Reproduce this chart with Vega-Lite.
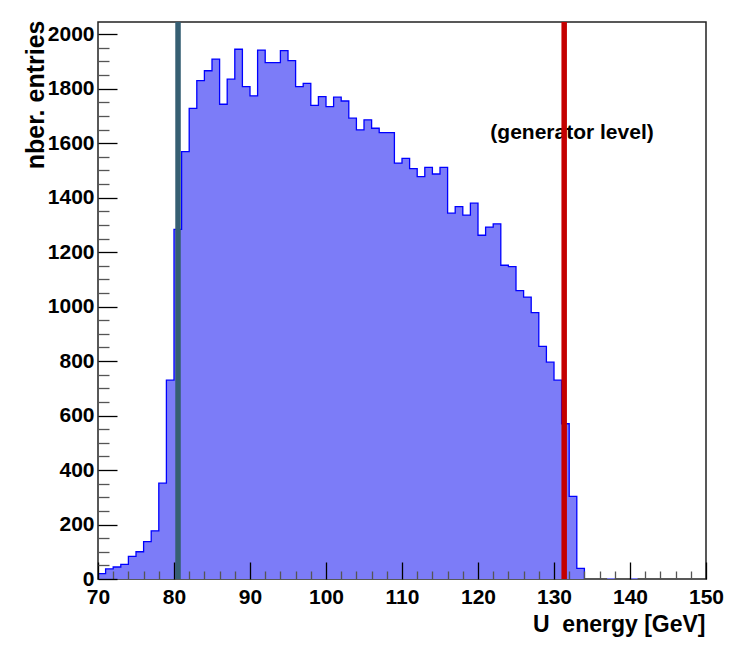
{
  "$schema": "https://vega.github.io/schema/vega-lite/v6.json",
  "width": 608,
  "height": 557,
  "autosize": {"type": "none"},
  "padding": {"left": 98, "top": 22, "right": 31, "bottom": 66},
  "background": "white",
  "config": {
    "view": {"stroke": "#222222", "strokeWidth": 1.5},
    "font": "Liberation Sans"
  },
  "datasets": {
    "hist": [
      {"e": 70, "n": 20}, {"e": 71, "n": 37}, {"e": 72, "n": 44}, {"e": 73, "n": 54},
      {"e": 74, "n": 83}, {"e": 75, "n": 100}, {"e": 76, "n": 137}, {"e": 77, "n": 177},
      {"e": 78, "n": 352}, {"e": 79, "n": 730}, {"e": 80, "n": 1284}, {"e": 81, "n": 1569},
      {"e": 82, "n": 1728}, {"e": 83, "n": 1830}, {"e": 84, "n": 1866}, {"e": 85, "n": 1909},
      {"e": 86, "n": 1743}, {"e": 87, "n": 1835}, {"e": 88, "n": 1945}, {"e": 89, "n": 1808},
      {"e": 90, "n": 1774}, {"e": 91, "n": 1942}, {"e": 92, "n": 1896}, {"e": 93, "n": 1896},
      {"e": 94, "n": 1940}, {"e": 95, "n": 1903}, {"e": 96, "n": 1808}, {"e": 97, "n": 1820},
      {"e": 98, "n": 1739}, {"e": 99, "n": 1771}, {"e": 100, "n": 1734}, {"e": 101, "n": 1769},
      {"e": 102, "n": 1755}, {"e": 103, "n": 1692}, {"e": 104, "n": 1649}, {"e": 105, "n": 1686},
      {"e": 106, "n": 1655}, {"e": 107, "n": 1639}, {"e": 108, "n": 1639}, {"e": 109, "n": 1527},
      {"e": 110, "n": 1544}, {"e": 111, "n": 1507}, {"e": 112, "n": 1477}, {"e": 113, "n": 1511},
      {"e": 114, "n": 1487}, {"e": 115, "n": 1511}, {"e": 116, "n": 1343}, {"e": 117, "n": 1367},
      {"e": 118, "n": 1336}, {"e": 119, "n": 1380}, {"e": 120, "n": 1262}, {"e": 121, "n": 1292},
      {"e": 122, "n": 1304}, {"e": 123, "n": 1152}, {"e": 124, "n": 1147}, {"e": 125, "n": 1059},
      {"e": 126, "n": 1035}, {"e": 127, "n": 978}, {"e": 128, "n": 854}, {"e": 129, "n": 796},
      {"e": 130, "n": 730}, {"e": 131, "n": 570}, {"e": 132, "n": 303}, {"e": 133, "n": 39},
      {"e": 134, "n": 0}, {"e": 135, "n": 0}, {"e": 136, "n": 0}, {"e": 137, "n": 4},
      {"e": 138, "n": 0}, {"e": 139, "n": 0}, {"e": 140, "n": 4}, {"e": 141, "n": 0},
      {"e": 142, "n": 0}, {"e": 143, "n": 0}, {"e": 144, "n": 0}, {"e": 145, "n": 0},
      {"e": 146, "n": 0}, {"e": 147, "n": 0}, {"e": 148, "n": 0}, {"e": 149, "n": 0},
      {"e": 150, "n": 0}
    ],
    "lines": [
      {"pos": 80.53, "kind": "reco"},
      {"pos": 131.34, "kind": "gen"}
    ],
    "note": [
      {"x": 132.37, "y": 1638, "label": "(generator level)"}
    ]
  },
  "layer": [
    {
      "data": {"name": "hist"},
      "mark": {"type": "area", "interpolate": "step-after", "color": "#7c7cf8", "opacity": 1},
      "encoding": {
        "x": {
          "field": "e", "type": "quantitative",
          "scale": {"domain": [70, 150], "nice": false, "zero": false},
          "axis": {
            "zindex": 1,
            "tickCount": 200,
            "values": [70,72,74,76,78,80,82,84,86,88,90,92,94,96,98,100,102,104,106,108,110,112,114,116,118,120,122,124,126,128,130,132,134,136,138,140,142,144,146,148,150],
            "format": "d",
            "labelExpr": "datum.value % 10 === 0 ? datum.label : ''",
            "labelOverlap": false,
            "labelFlush": false,
            "labelBound": false,
            "domain": false,
            "grid": false,
            "tickSize": {"condition": {"test": "datum.value % 10 === 0", "value": -17}, "value": -8},
            "tickColor": {"condition": {"test": "datum.value % 10 === 0", "value": "#000000"}, "value": "#555555"},
            "tickWidth": 1.3,
            "labelFont": "Liberation Sans",
            "labelFontWeight": "bold",
            "labelFontSize": 21,
            "labelColor": "#000000",
            "labelPadding": 24,
            "labelBaseline": "top",
            "title": "U\u00a0\u00a0energy [GeV]",
            "titleFont": "Liberation Sans",
            "titleFontWeight": "bold",
            "titleFontSize": 23,
            "titleColor": "#000000",
            "titleAnchor": "end",
            "titleAlign": "right",
            "titleBaseline": "alphabetic",
            "titleX": 607,
            "titleY": 52
          }
        },
        "y": {
          "field": "n", "type": "quantitative",
          "scale": {"domain": [0, 2045], "nice": false},
          "axis": {
            "zindex": 1,
            "tickCount": 200,
            "values": [0,50,100,150,200,250,300,350,400,450,500,550,600,650,700,750,800,850,900,950,1000,1050,1100,1150,1200,1250,1300,1350,1400,1450,1500,1550,1600,1650,1700,1750,1800,1850,1900,1950,2000],
            "format": "d",
            "labelExpr": "datum.value % 200 === 0 ? datum.label : ''",
            "labelOverlap": false,
            "labelFlush": false,
            "labelBound": false,
            "domain": false,
            "grid": false,
            "tickSize": {"condition": {"test": "datum.value % 200 === 0", "value": -19}, "value": -11},
            "tickColor": {"condition": {"test": "datum.value % 200 === 0", "value": "#000000"}, "value": "#555555"},
            "tickWidth": 1.3,
            "labelFont": "Liberation Sans",
            "labelFontWeight": "bold",
            "labelFontSize": 21,
            "labelColor": "#000000",
            "labelPadding": 23,
            "title": "nber. entries",
            "titleFont": "Liberation Sans",
            "titleFontWeight": "bold",
            "titleFontSize": 25,
            "titleColor": "#000000",
            "titleAngle": -90,
            "titleAnchor": "end",
            "titleAlign": "right",
            "titleBaseline": "alphabetic",
            "titleX": -55,
            "titleY": -2
          }
        }
      }
    },
    {
      "data": {"name": "hist"},
      "transform": [{"filter": "datum.e <= 134"}],
      "mark": {"type": "line", "interpolate": "step-after", "color": "#0000ff", "strokeWidth": 1.3},
      "encoding": {
        "x": {"field": "e", "type": "quantitative"},
        "y": {"field": "n", "type": "quantitative"}
      }
    },
    {
      "data": {"name": "note"},
      "mark": {"type": "text", "font": "Liberation Sans", "fontWeight": "bold", "fontSize": 21, "align": "center", "baseline": "middle", "color": "#000000"},
      "encoding": {
        "x": {"field": "x", "type": "quantitative"},
        "y": {"field": "y", "type": "quantitative"},
        "text": {"field": "label"}
      }
    },
    {
      "data": {"name": "lines"},
      "mark": {"type": "rule", "strokeWidth": 5.5},
      "encoding": {
        "x": {"field": "pos", "type": "quantitative"},
        "color": {
          "field": "kind", "type": "nominal",
          "scale": {"domain": ["reco", "gen"], "range": ["#365f73", "#c40000"]},
          "legend": null
        }
      }
    }
  ]
}
